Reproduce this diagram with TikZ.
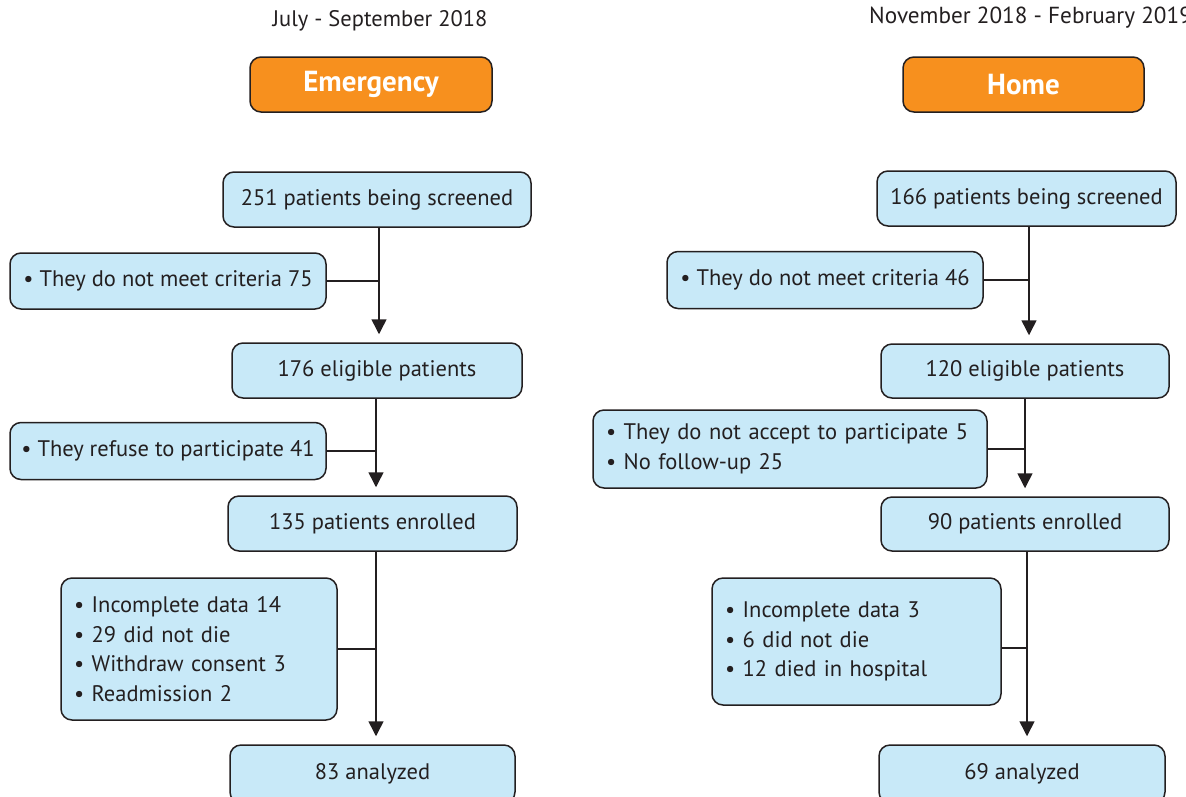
\documentclass[tikz,border=0pt]{standalone}
\usepackage{fontspec}
\setmainfont{PT Sans}
\usetikzlibrary{arrows.meta,calc}
\definecolor{boxblue}{HTML}{C8E9F8}
\definecolor{hdrorange}{HTML}{F7901E}
\definecolor{ink}{HTML}{231F20}
\tikzset{
  x=1pt,y=-1pt,
  bbox/.style={draw=ink,line width=1.5pt,fill=boxblue,rounded corners=11pt,inner sep=0pt,font=\fontsize{22.5}{29.5}\selectfont,text=ink},
  lbox/.style={bbox,align=left,inner xsep=13pt},
  hbox/.style={draw=ink,line width=1.5pt,fill=hdrorange,rounded corners=11pt,inner sep=0pt,font=\fontsize{29}{32}\selectfont\bfseries,text=white},
  lbl/.style={font=\fontsize{22.5}{26}\selectfont,text=ink,inner sep=0pt},
  flow/.style={draw=ink,line width=1.5pt,-{Triangle[width=15pt,length=15pt]},shorten >=8pt},
  side/.style={draw=ink,line width=1.5pt}
}
\begin{document}
\begin{tikzpicture}
\useasboundingbox (0,0) rectangle (1186,796);
\clip (0,0) rectangle (1186,796);
% titles
\node[lbl] (tL) at (380,21) {July - September 2018};
\node[lbl,anchor=west,font=\fontsize{23.2}{26}\selectfont] (tR) at (869,18) {November 2018 - February 2019};
\node[hbox,minimum width=242pt,minimum height=55pt] (hL) at (371,84.5) {Emergency};
\node[hbox,minimum width=241pt,minimum height=55pt] (hR) at (1023.5,84.5) {Home};
% left column
\node[bbox,minimum width=308pt,minimum height=55pt] (s1) at (377,199.5) {251 patients being screened};
\node[bbox,minimum width=316pt,minimum height=56pt] (x1) at (168,281) {\textbullet\ They do not meet criteria 75};
\node[bbox,minimum width=290pt,minimum height=55pt] (e1) at (377,370.5) {176 eligible patients};
\node[bbox,minimum width=316pt,minimum height=57pt] (x2) at (168,451) {\textbullet\ They refuse to participate 41};
\node[bbox,minimum width=289pt,minimum height=55pt] (n1) at (372.5,523.5) {135 patients enrolled};
\node[lbox,minimum width=276pt,minimum height=142pt,text width=250pt] (x3) at (199,649) {\textbullet\ Incomplete data 14\\\textbullet\ 29 did not die\\\textbullet\ Withdraw consent 3\\\textbullet\ Readmission 2};
\node[bbox,minimum width=285pt,minimum height=58pt] (a1) at (372.5,774) {83 analyzed};
% right column
\node[bbox,minimum width=299pt,minimum height=55pt] (s2) at (1026.5,198.5) {166 patients being screened};
\node[bbox,minimum width=316pt,minimum height=57pt] (x4) at (825,280) {\textbullet\ They do not meet criteria 46};
\node[bbox,minimum width=288pt,minimum height=54pt] (e2) at (1025,371) {120 eligible patients};
\node[lbox,minimum width=394pt,minimum height=78pt,text width=368pt] (x5) at (790,449) {\textbullet\ They do not accept to participate 5\\\textbullet\ No follow-up 25};
\node[bbox,minimum width=288pt,minimum height=54pt] (n2) at (1025,524) {90 patients enrolled};
\node[lbox,minimum width=289pt,minimum height=127pt,text width=263pt] (x6) at (856.5,641.5) {\textbullet\ Incomplete data 3\\\textbullet\ 6 did not die\\\textbullet\ 12 died in hospital};
\node[bbox,minimum width=286pt,minimum height=58pt] (a2) at (1022,774) {69 analyzed};
% trunk points
\coordinate (t1) at ([xshift=2pt]s1.south);
\coordinate (t2) at ([xshift=-1pt]e1.south);
\coordinate (t3) at ([xshift=3.5pt]n1.south);
\coordinate (t4) at ([xshift=2.5pt]s2.south);
\coordinate (t5) at (e2.south);
\coordinate (t6) at ([xshift=2pt]n2.south);
% left connectors
\draw[flow] (t1) -- (t1 |- e1.north);
\draw[side] (x1.east) -- (x1.east -| t1);
\draw[flow] (t2) -- (t2 |- n1.north);
\draw[side] (x2.east) -- (x2.east -| t2);
\draw[flow] (t3) -- (t3 |- a1.north);
\draw[side] (x3.east) -- (x3.east -| t3);
% right connectors
\draw[flow] (t4) -- (t4 |- e2.north);
\draw[side] (x4.east) -- (x4.east -| t4);
\draw[flow] (t5) -- (t5 |- n2.north);
\draw[side] (x5.east) -- (x5.east -| t5);
\draw[flow] (t6) -- (t6 |- a2.north);
\coordinate (x6e) at ([yshift=-6.5pt]x6.east);
\draw[side] (x6e) -- (x6e -| t6);
\end{tikzpicture}
\end{document}
